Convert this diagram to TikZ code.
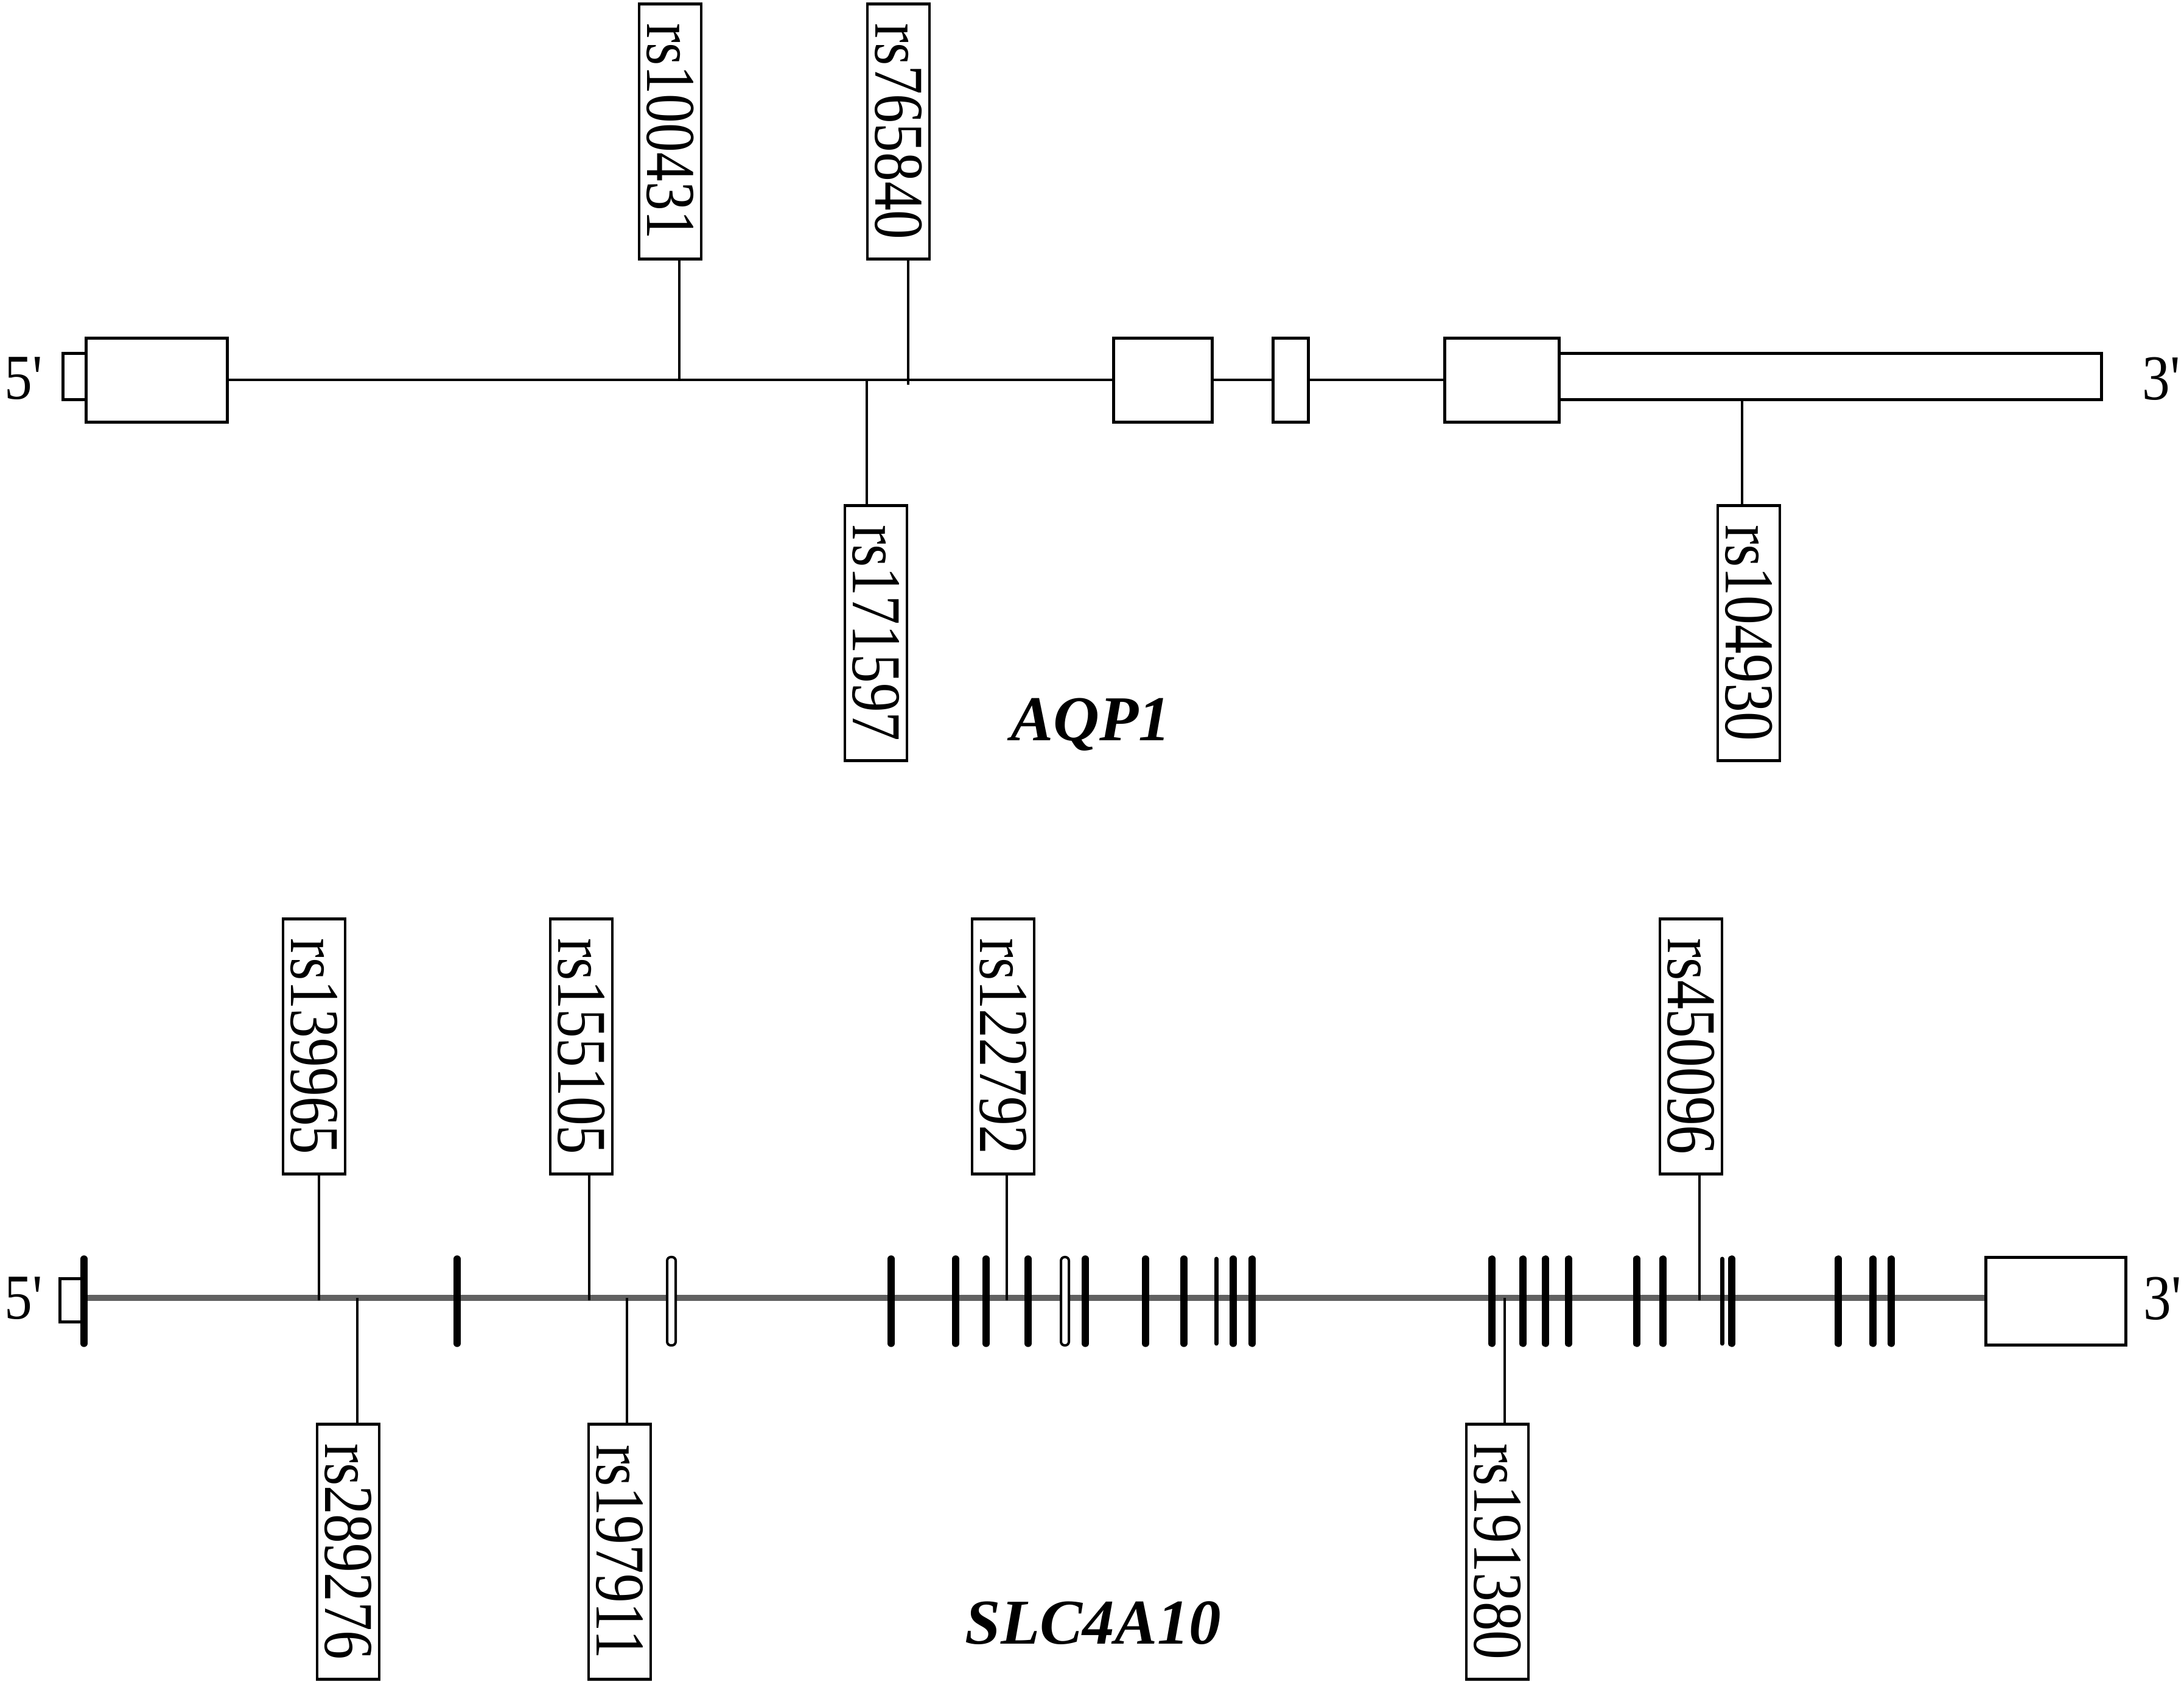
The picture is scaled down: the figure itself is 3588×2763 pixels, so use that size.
\documentclass[tikz,border=0pt]{standalone}
\usepackage{fontspec}
\setmainfont{Liberation Serif}
\usepackage{graphicx}
\newcommand\rsl[1]{\rotatebox{-90}{\scalebox{0.83}[1]{#1}}}
\newcommand\primelab[1]{\scalebox{0.87}[1]{#1\textquotesingle}}
\begin{document}
\begin{tikzpicture}[x=0.1pt,y=-0.1pt,
  exon/.style={draw, line width=0.5pt, fill=white},
  snp/.style={draw, line width=0.45pt, fill=white, minimum width=10.2pt, minimum height=41.9pt, inner sep=0pt, font=\fontsize{11.5}{12}\selectfont},
  stem/.style={line width=0.42pt},
  gline/.style={line width=0.48pt},
  gline2/.style={line width=1pt, draw=black!62},
  bar/.style={line width=1.15pt, line cap=round},
  thinbar/.style={line width=0.7pt, line cap=round},
  hollow/.style={draw, line width=0.4pt, fill=white, rounded corners=0.6pt},
  endlab/.style={inner sep=0pt, font=\fontsize{10.5}{12}\selectfont},
  genelab/.style={inner sep=0pt, font=\fontsize{10.5}{12}\selectfont\bfseries\itshape}]
\fill[white] (0,0) rectangle (3588,2763);
\useasboundingbox (0,0) rectangle (3588,2763);

% ---------- AQP1 ----------
\draw[gline] (373,624) -- (2373,624);
\draw[exon] (103,581) rectangle (141,657);
\draw[exon] (141,556) rectangle (373,694);
\draw[exon] (1829,556) rectangle (1991,694);
\draw[exon] (2091,556) rectangle (2149,694);
\draw[exon] (2373,556) rectangle (2561,694);
\draw[exon] (2561,581) rectangle (3452,657);
\node[endlab] (a5) at (39,622) {\primelab{5}};
\node[endlab] (a3) at (3551,622) {\primelab{3}};

\node[snp] (a1) at (1101,216) {\rsl{rs100431}};
\node[snp] (a2) at (1476,216) {\rsl{rs765840}};
\node[snp] (a3s) at (1439,1040) {\rsl{rs171597}};
\node[snp] (a4) at (2873,1040) {\rsl{rs104930}};
\coordinate (a1p) at (1116,624);
\coordinate (a2p) at (1492,632);
\coordinate (a3p) at (1424,624);
\coordinate (a4p) at (2862,657);
\draw[stem] (a1p) -- (a1p |- a1.south);
\draw[stem] (a2p) -- (a2p |- a2.south);
\draw[stem] (a3p) -- (a3p |- a3s.north);
\draw[stem] (a4p) -- (a4p |- a4.north);
\node[genelab] (aqp) at (1792,1190) {AQP1};

% ---------- SLC4A10 ----------
\draw[gline2] (138,2132) -- (3262,2132);
\draw[exon] (98,2101) rectangle (138,2172);
\foreach \x in {138,751,1464,1570,1620,1689,1783,1882,1945,2026,2057,2451,2502,2539,2577,2689,2732,2845,3020,3077,3107}
  \draw[bar] (\x,2068) -- (\x,2207);
\foreach \x in {1998,2829}
  \draw[thinbar] (\x,2068) -- (\x,2207);
\draw[hollow] (1096,2065) rectangle (1110,2210);
\draw[hollow] (1743,2065) rectangle (1756,2210);
\draw[exon] (3262,2066) rectangle (3492,2210);
\node[endlab] (b5) at (39,2133) {\primelab{5}};
\node[endlab] (b3) at (3553,2133) {\primelab{3}};

\node[snp] (b1) at (516,1719) {\rsl{rs139965}};
\node[snp] (b2) at (572,2549) {\rsl{rs289276}};
\node[snp] (b3s) at (955,1719) {\rsl{rs155105}};
\node[snp] (b4) at (1018,2549) {\rsl{rs197911}};
\node[snp] (b5s) at (1648,1719) {\rsl{rs122792}};
\node[snp] (b6) at (2778,1719) {\rsl{rs450096}};
\node[snp] (b7) at (2460,2549) {\rsl{rs191380}};
\coordinate (b1p) at (524,2136);
\coordinate (b2p) at (587,2132);
\coordinate (b3p) at (968,2136);
\coordinate (b4p) at (1030,2132);
\coordinate (b5p) at (1654,2136);
\coordinate (b6p) at (2792,2136);
\coordinate (b7p) at (2472,2132);
\draw[stem] (b1p) -- (b1p |- b1.south);
\draw[stem] (b2p) -- (b2p |- b2.north);
\draw[stem] (b3p) -- (b3p |- b3s.south);
\draw[stem] (b4p) -- (b4p |- b4.north);
\draw[stem] (b5p) -- (b5p |- b5s.south);
\draw[stem] (b6p) -- (b6p |- b6.south);
\draw[stem] (b7p) -- (b7p |- b7.north);
\node[genelab] (slc) at (1796,2666) {SLC4A10};
\end{tikzpicture}
\end{document}
